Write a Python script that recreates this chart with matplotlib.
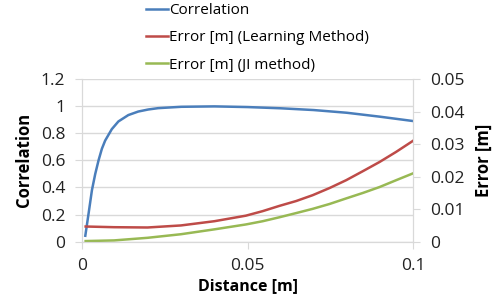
import matplotlib
matplotlib.use("Agg")
import matplotlib.pyplot as plt

plt.rcParams['font.family'] = ['Open Sans', 'DejaVu Sans']

# values
corr_x = [0.001, 0.002, 0.003, 0.004, 0.005, 0.006, 0.007, 0.009, 0.011, 0.014,
          0.017, 0.020, 0.023, 0.030, 0.040, 0.050, 0.060, 0.070, 0.080, 0.090, 0.100]
corr_y = [0.044, 0.21, 0.38, 0.50, 0.60, 0.685, 0.746, 0.83, 0.887, 0.934,
          0.96, 0.975, 0.985, 0.995, 0.998, 0.993, 0.984, 0.971, 0.951, 0.922, 0.89]

err_x = [0.0011, 0.0097, 0.0198, 0.0299, 0.040, 0.0495, 0.0546, 0.0596, 0.0647,
         0.0697, 0.0748, 0.0798, 0.0849, 0.0899, 0.0949, 0.100]
learn_err = [0.00467, 0.00446, 0.00437, 0.0050, 0.0063, 0.0080, 0.0094, 0.0110, 0.0125,
             0.0143, 0.0165, 0.0189, 0.0217, 0.0245, 0.0276, 0.0310]
ji_err = [0.0002, 0.0004, 0.0012, 0.0023, 0.0038, 0.0053, 0.0063, 0.0075, 0.0088,
          0.0101, 0.0116, 0.0133, 0.0150, 0.0168, 0.0189, 0.0210]

blue = '#4a7ebb'
red = '#be4b48'
green = '#98b954'
grid = '#d9d9d9'

fig = plt.figure(figsize=(5, 3.05), dpi=100)
ax = fig.add_axes([0.164, 0.2075, 0.662, 0.5335])
ax2 = ax.twinx()

l1, = ax.plot(corr_x, corr_y, color=blue, lw=1.8, label='Correlation')
l2, = ax2.plot(err_x, learn_err, color=red, lw=1.8, label='Error [m] (Learning Method)')
l3, = ax2.plot(err_x, ji_err, color=green, lw=1.8, label='Error [m] (JI method)')

ax.set_xlim(0, 0.1)
ax.set_ylim(0, 1.2)
ax2.set_ylim(0, 0.05)
ax.set_xticks([0, 0.05, 0.1])
ax.set_xticklabels(['0', '0.05', '0.1'])
ax.set_yticks([0, 0.2, 0.4, 0.6, 0.8, 1.0, 1.2])
ax.set_yticklabels(['0', '0.2', '0.4', '0.6', '0.8', '1', '1.2'])
ax2.set_yticks([0, 0.01, 0.02, 0.03, 0.04, 0.05])
ax2.set_yticklabels(['0', '0.01', '0.02', '0.03', '0.04', '0.05'])

ax.grid(axis='y', color=grid, lw=1)
ax.set_axisbelow(True)
for a in (ax, ax2):
    a.spines['top'].set_visible(False)
    for s in ('left', 'right', 'bottom'):
        a.spines[s].set_color(grid)
    a.tick_params(colors=grid, labelcolor='#222222', labelsize=12.5, length=5, pad=7)

ax.set_xlabel('Distance [m]', fontsize=11.5, fontweight='bold', labelpad=3)
ax.set_ylabel('Correlation', fontsize=12, fontweight='bold', labelpad=6)
ax2.set_ylabel('Error [m]', fontsize=12, fontweight='bold', labelpad=8)

fig.legend(handles=[l1, l2, l3], loc='upper left', bbox_to_anchor=(0.28, 1.01),
           frameon=False, fontsize=11, handlelength=1.4, handletextpad=0.1,
           labelspacing=0.8, borderaxespad=0)

fig.savefig('out.png', dpi=100)
